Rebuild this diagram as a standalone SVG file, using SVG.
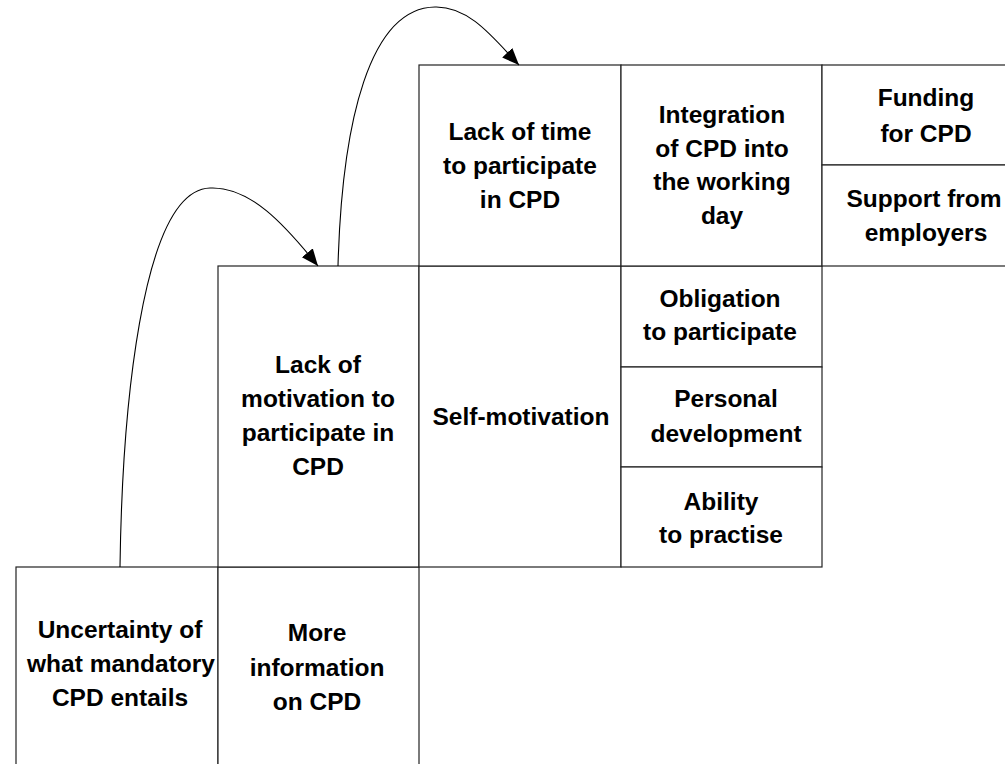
<svg xmlns="http://www.w3.org/2000/svg" width="1005" height="764" viewBox="0 0 1005 764">
<style>
.box{fill:#fff;stroke:#222;stroke-width:1.2}
.lbl{font-family:"Liberation Sans",Arial,sans-serif;font-weight:bold;font-size:24.5px;fill:#000;text-anchor:middle}
.conn{fill:none;stroke:#000;stroke-width:1.1}
</style>
<defs>
<marker id="ah" markerUnits="userSpaceOnUse" markerWidth="19" markerHeight="15" refX="17" refY="7" orient="auto">
<path d="M0,0 L17,7 L0,14 z" fill="#000"/>
</marker>
</defs>
<rect width="1005" height="764" fill="#fff"/>
<g id="n-uncertainty"><rect class="box" x="16" y="567" width="202" height="210"/>
<text class="lbl"><tspan x="120" y="638">Uncertainty of</tspan><tspan x="121" y="672">what mandatory</tspan><tspan x="120" y="706">CPD entails</tspan></text></g>
<g id="n-moreinfo"><rect class="box" x="218" y="567" width="201" height="210"/>
<text class="lbl"><tspan x="317" y="641">More</tspan><tspan x="317" y="676">information</tspan><tspan x="317" y="710">on CPD</tspan></text></g>
<g id="n-motivation"><rect class="box" x="218" y="266" width="201" height="301"/>
<text class="lbl"><tspan x="318" y="373">Lack of</tspan><tspan x="318" y="407">motivation to</tspan><tspan x="318" y="441">participate in</tspan><tspan x="318" y="475">CPD</tspan></text></g>
<g id="n-selfmotivation"><rect class="box" x="419" y="266" width="202" height="301"/>
<text class="lbl"><tspan x="521" y="425">Self-motivation</tspan></text></g>
<g id="n-obligation"><rect class="box" x="621" y="266" width="201" height="101"/>
<text class="lbl"><tspan x="720" y="307">Obligation</tspan><tspan x="720" y="340">to participate</tspan></text></g>
<g id="n-personal"><rect class="box" x="621" y="367" width="201" height="100"/>
<text class="lbl"><tspan x="726" y="407">Personal</tspan><tspan x="726" y="442">development</tspan></text></g>
<g id="n-ability"><rect class="box" x="621" y="467" width="201" height="100"/>
<text class="lbl"><tspan x="721" y="510">Ability</tspan><tspan x="721" y="543">to practise</tspan></text></g>
<g id="n-time"><rect class="box" x="419" y="65" width="202" height="201"/>
<text class="lbl"><tspan x="520" y="140">Lack of time</tspan><tspan x="520" y="174">to participate</tspan><tspan x="520" y="208">in CPD</tspan></text></g>
<g id="n-integration"><rect class="box" x="621" y="65" width="201" height="201"/>
<text class="lbl"><tspan x="722" y="123">Integration</tspan><tspan x="722" y="157">of CPD into</tspan><tspan x="722" y="190">the working</tspan><tspan x="722" y="224">day</tspan></text></g>
<g id="n-funding"><rect class="box" x="822" y="65" width="210" height="100"/>
<text class="lbl"><tspan x="926" y="106">Funding</tspan><tspan x="926" y="142">for CPD</tspan></text></g>
<g id="n-support"><rect class="box" x="822" y="165" width="210" height="101"/>
<text class="lbl"><tspan x="924" y="207">Support from</tspan><tspan x="926" y="241">employers</tspan></text></g>
<g id="connectors">
<path class="conn" d="M120,567 C122,420 140,190 210,188 C250,186 285,225 318,266" marker-end="url(#ah)"/>
<path class="conn" d="M338,266 C342,120 370,8 435,7 C470,6 495,40 519,65" marker-end="url(#ah)"/>
</g>
</svg>
